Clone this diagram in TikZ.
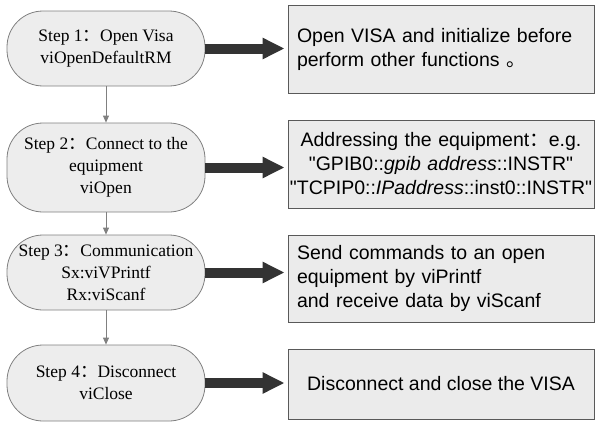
\documentclass[tikz,border=0pt]{standalone}
\usepackage{fontspec}
\setmainfont{Liberation Serif}
\newfontfamily\boxfont{Liberation Sans}
\newfontfamily\cjk{Noto Sans CJK SC}
\newcommand\fcolon{{\cjk ：}}
\usetikzlibrary{arrows.meta}

\begin{document}
\begin{tikzpicture}[x=1pt,y=-1pt,
    stepnode/.style={draw=black!50,fill=black!7,line width=0.8pt,rounded corners=36pt,
      minimum width=198pt,align=center,inner sep=0pt,font=\fontsize{17.5}{22}\selectfont},
    infobox/.style={draw=black!65,fill=black!8,line width=0.9pt,minimum width=306pt,
      inner sep=0pt,font=\boxfont\fontsize{19.5}{24}\selectfont},
    flow/.style={draw=black!50,line width=0.8pt,-{Triangle[length=7pt,width=6pt]}},
    bigarrow/.style={draw=black!80,line width=10pt,-{Triangle[length=22pt,width=20pt]},shorten >=3pt}]
  \useasboundingbox (0,0) rectangle (595,423);
  % steps on the left
  \node[stepnode,minimum height=75pt] (o1) at (106,48.5) {Step 1\fcolon Open Visa\\viOpenDefaultRM};
  \node[stepnode,minimum height=89pt] (o2) at (106,167.5) {Step 2\fcolon Connect to the\\equipment\\viOpen};
  \node[stepnode,minimum height=75pt] (o3) at (106,272.5) {Step 3\fcolon Communication\\Sx:viVPrintf\\Rx:viScanf};
  \node[stepnode,minimum height=76pt] (o4) at (106,383) {Step 4\fcolon Disconnect\\viClose};
  % boxes on the right
  \node[infobox,minimum height=88pt,text width=288pt,align=left] (b1) at (441,49)
    {Open VISA and initialize before\\perform other functions {\cjk 。}};
  \node[infobox,minimum height=88pt,text width=288pt,align=center] (b2) at (441,164)
    {Addressing the equipment\fcolon e.g.\\"GPIB0::\textit{gpib address}::INSTR"\\
     \makebox[288pt]{"TCPIP0::\textit{IPaddress}::inst0::INSTR"}};
  \node[infobox,minimum height=87pt,text width=288pt,align=left] (b3) at (441,278.5)
    {Send commands to an open\\equipment by viPrintf\\and receive data by viScanf};
  \node[infobox,minimum height=70pt,align=center] (b4) at (441,384) {Disconnect and close the VISA};
  % connectors
  \draw[flow] (o1) -- (o2);
  \draw[flow] (o2) -- (o3);
  \draw[flow] (o3) -- (o4);
  \draw[bigarrow] (o1.east) -- (o1.east -| b1.west);
  \draw[bigarrow] (o2.east) -- (o2.east -| b2.west);
  \draw[bigarrow] (o3.east) -- (o3.east -| b3.west);
  \draw[bigarrow] (o4.east) -- (o4.east -| b4.west);
\end{tikzpicture}
\end{document}
